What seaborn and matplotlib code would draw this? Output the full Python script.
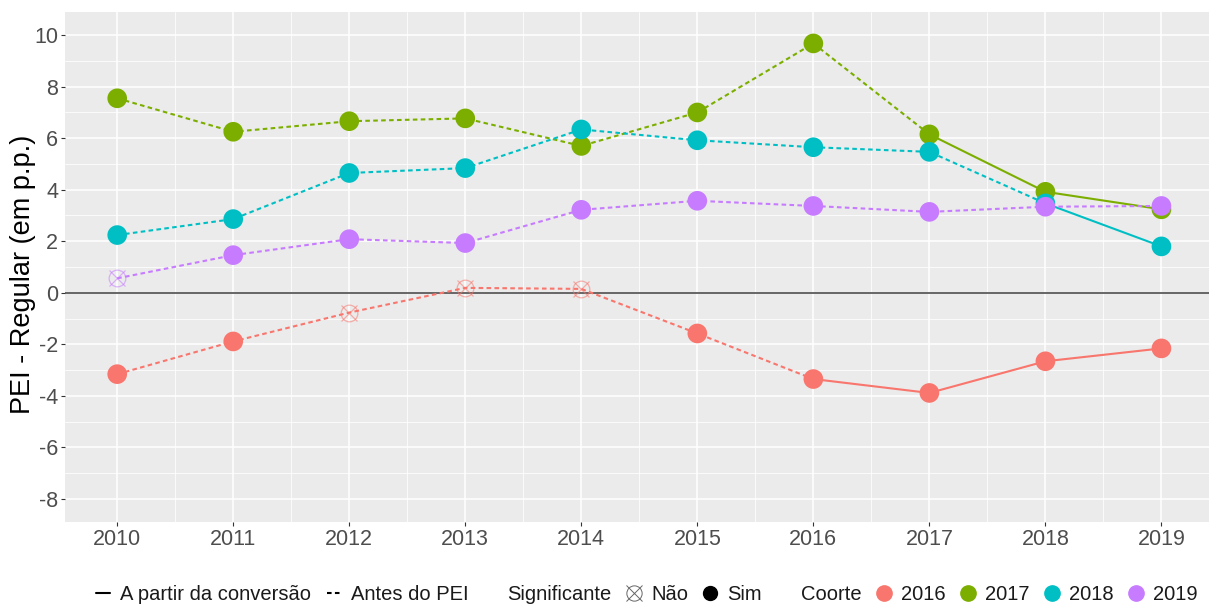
import numpy as np
import pandas as pd
import matplotlib
matplotlib.use("Agg")
import matplotlib.pyplot as plt
from matplotlib.lines import Line2D
from matplotlib.legend_handler import HandlerTuple
from matplotlib.ticker import MultipleLocator
import seaborn as sns

# Difference PEI - Regular (percentage points) by year, for each cohort
anos = [2010, 2011, 2012, 2013, 2014, 2015, 2016, 2017, 2018, 2019]
coortes = [2016, 2017, 2018, 2019]
dif_2016 = [-3.16, -1.89, -0.77, 0.19, 0.15, -1.58, -3.35, -3.89, -2.66, -2.16]
dif_2017 = [7.55, 6.25, 6.66, 6.77, 5.70, 7.00, 9.68, 6.15, 3.92, 3.24]
dif_2018 = [2.24, 2.86, 4.65, 4.84, 6.34, 5.92, 5.65, 5.47, 3.47, 1.80]
dif_2019 = [0.56, 1.46, 2.08, 1.93, 3.22, 3.57, 3.37, 3.14, 3.34, 3.37]
# Statistical significance (True = "Sim", False = "Não")
sig_2016 = [True, True, False, False, False, True, True, True, True, True]
sig_2017 = [True] * 10
sig_2018 = [True] * 10
sig_2019 = [False] + [True] * 9

series = {2016: (dif_2016, sig_2016), 2017: (dif_2017, sig_2017),
          2018: (dif_2018, sig_2018), 2019: (dif_2019, sig_2019)}
cores = {2016: "#F8766D", 2017: "#7CAE00", 2018: "#00BFC4", 2019: "#C77CFF"}

FASE_ANTES = "Antes do PEI"
FASE_DEPOIS = "A partir da conversão"

# Long table: each cohort split into the segment before the conversion year
# and the segment from the conversion year on (the year itself is shared)
linhas = []
pontos = []
for c in coortes:
    vals, sig = series[c]
    for a, v, s in zip(anos, vals, sig):
        pontos.append({"ano": a, "dif": v, "coorte": c, "sig": s})
        if a <= c:
            linhas.append({"ano": a, "dif": v, "coorte": c, "fase": FASE_ANTES})
        if a >= c:
            linhas.append({"ano": a, "dif": v, "coorte": c, "fase": FASE_DEPOIS})
df_lin = pd.DataFrame(linhas)
df_pts = pd.DataFrame(pontos)

sns.set_theme(style="darkgrid")
plt.rcParams["font.family"] = ["Liberation Sans", "DejaVu Sans"]
plt.rcParams["axes.unicode_minus"] = False

fig = plt.figure(figsize=(12.09, 6.09), dpi=100)
ax = fig.add_axes([65 / 1209, 87 / 609, 1 - 65 / 1209, (522 - 12) / 609])
ax.set_facecolor("#EBEBEB")

ax.axhline(0, color="#4D4D4D", lw=1.2, zorder=1.5)

sns.lineplot(data=df_lin, x="ano", y="dif", hue="coorte", style="fase",
             palette=cores, dashes={FASE_ANTES: (2.2, 1.6), FASE_DEPOIS: ""},
             linewidth=1.5, estimator=None, sort=True, legend=False, ax=ax,
             zorder=2)

# Points, cohort by cohort so later cohorts sit on top
for c in coortes:
    d = df_pts[df_pts["coorte"] == c]
    ds = d[d["sig"]]
    sns.scatterplot(data=ds, x="ano", y="dif", color=cores[c], s=200,
                    edgecolor="none", legend=False, ax=ax, zorder=3)
    dn = d[~d["sig"]]
    if len(dn):
        ax.plot(dn["ano"], dn["dif"], ls="none", marker="o", ms=12,
                mfc="none", mec=cores[c], mew=0.9, alpha=0.55, zorder=3)
        ax.plot(dn["ano"], dn["dif"], ls="none", marker="x", ms=12,
                mec=cores[c], mew=0.9, alpha=0.55, zorder=3)

ax.set_xlim(2009.55, 2019.41)
ax.set_ylim(-8.9, 10.9)
ax.set_xticks(anos)
ax.xaxis.set_minor_locator(MultipleLocator(0.5))
ax.yaxis.set_major_locator(MultipleLocator(2))
ax.yaxis.set_minor_locator(MultipleLocator(1))
ax.grid(which="major", color="white", lw=1.1)
ax.grid(which="minor", color="white", lw=0.55)
for s in ax.spines.values():
    s.set_visible(False)
ax.tick_params(axis="both", which="major", length=3, width=0.8, color="#333333",
               labelsize=15.5, labelcolor="#4D4D4D", pad=2, bottom=True, left=True)
ax.tick_params(which="minor", length=0)
ax.set_xlabel("")
ax.set_ylabel("PEI - Regular (em p.p.)", fontsize=19.5, color="black")
ax.yaxis.set_label_coords(-0.025, 0.485)

# Legend: line type, significance and cohort side by side
vazio = Line2D([], [], ls="none", marker=None)
nao = (Line2D([], [], ls="none", marker="o", ms=11, mfc="none", mec="#666666", mew=0.7),
       Line2D([], [], ls="none", marker="x", ms=11, mec="#666666", mew=0.7))
handles = [
    Line2D([], [], color="black", lw=1.5),
    Line2D([], [], color="black", lw=1.5, ls=(0, (2.2, 1.6))),
    vazio,
    nao,
    Line2D([], [], ls="none", marker="o", ms=10, color="black"),
    vazio,
]
labels = [FASE_DEPOIS, FASE_ANTES, "Significante", "Não", "Sim", "Coorte"]
for c in coortes:
    handles.append(Line2D([], [], ls="none", marker="o", ms=11, color=cores[c]))
    labels.append(str(c))
leg = fig.legend(handles, labels, loc="center", bbox_to_anchor=(0.535, 14 / 609),
                 ncol=len(handles), frameon=False, fontsize=14.5,
                 handlelength=0.7, handletextpad=0.5, columnspacing=0.75,
                 borderaxespad=0,
                 handler_map={tuple: HandlerTuple(ndivide=1, pad=0)})
for t in leg.get_texts():
    t.set_color("#1A1A1A")

fig.savefig("out.png", dpi=100)
